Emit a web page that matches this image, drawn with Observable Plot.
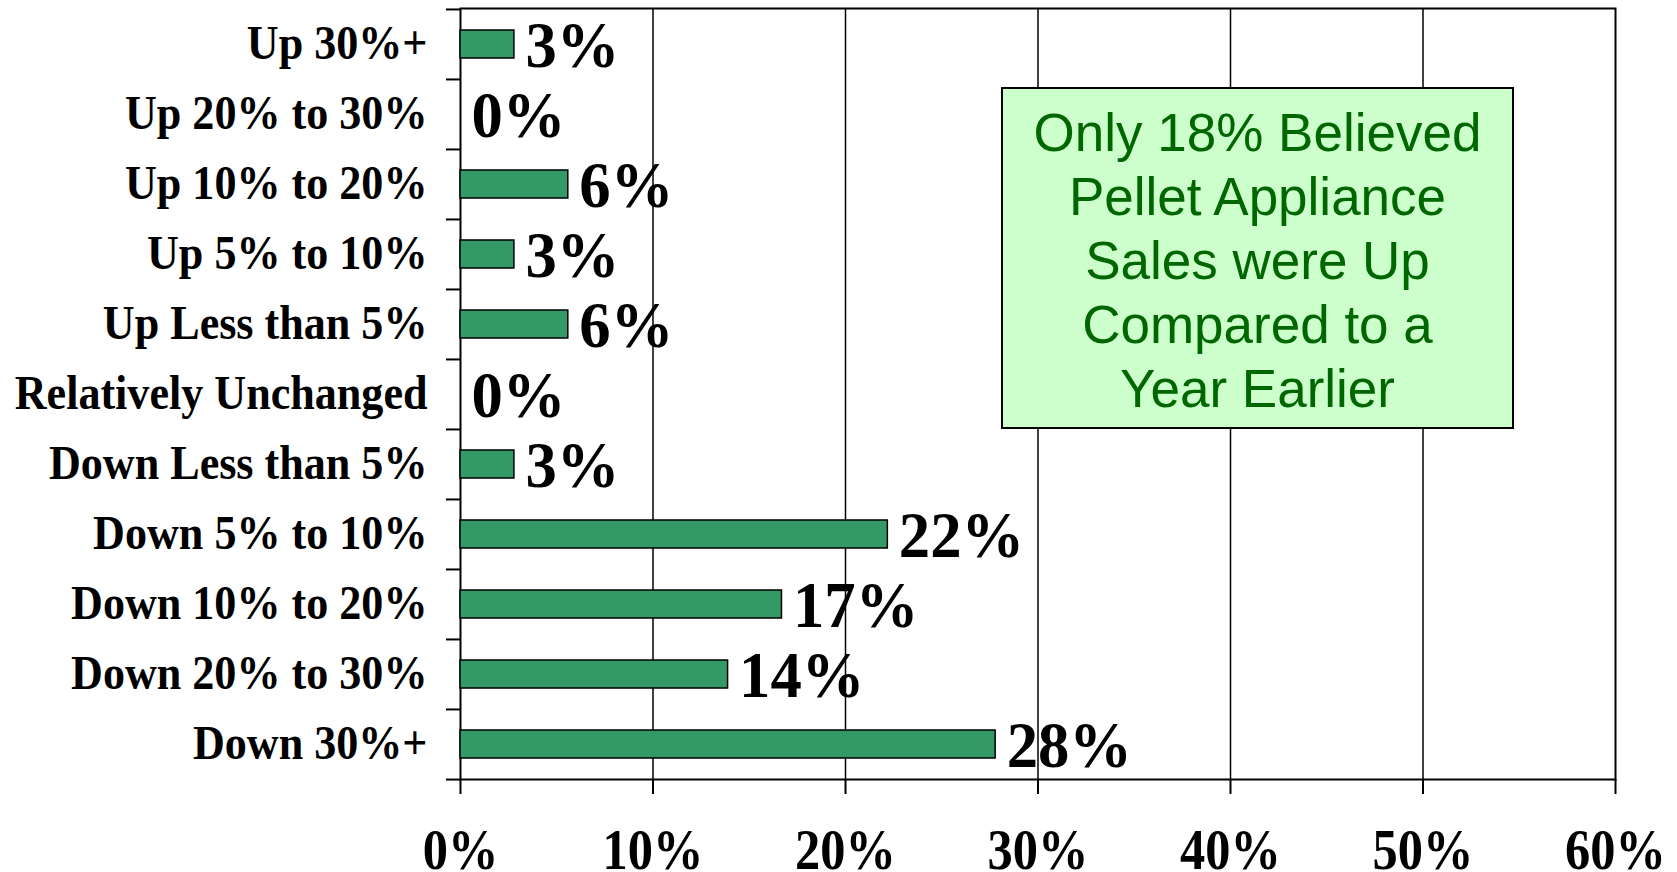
<!DOCTYPE html>
<html>
<head>
<meta charset="utf-8">
<script src="https://cdn.jsdelivr.net/npm/d3@7"></script>
<script src="https://cdn.jsdelivr.net/npm/@observablehq/plot@0.6"></script>
<style>
  html, body { margin: 0; padding: 0; background: #fff; }
  #wrap { position: relative; width: 1677px; height: 872px; overflow: hidden; background: #fff; }
  #wrap svg { display: block; }
  #note {
    position: absolute; left: 1001px; top: 87px; width: 513px; height: 342px;
    box-sizing: border-box; border: 2px solid #000; background: #ccffcc;
    color: #006600; font-family: "Liberation Sans", Arial, sans-serif;
    font-size: 53px; line-height: 64px; text-align: center; padding-top: 12px;
    white-space: nowrap;
  }
</style>
</head>
<body>
<div id="wrap"></div>
<script>
const categories = [
  "Up 30%+", "Up 20% to 30%", "Up 10% to 20%", "Up 5% to 10%", "Up Less than 5%",
  "Relatively Unchanged", "Down Less than 5%", "Down 5% to 10%", "Down 10% to 20%",
  "Down 20% to 30%", "Down 30%+"
];
const values = [2.8, 0, 5.6, 2.8, 5.6, 0, 2.8, 22.2, 16.7, 13.9, 27.8];
const valueLabels = ["3%", "0%", "6%", "3%", "6%", "0%", "3%", "22%", "17%", "14%", "28%"];
const xTicks = [0, 10, 20, 30, 40, 50, 60];
const xTickLabels = ["0%", "10%", "20%", "30%", "40%", "50%", "60%"];
const noteLines = ["Only 18% Believed", "Pellet Appliance", "Sales were Up", "Compared to a", "Year Earlier"];

const data = categories.map((c, i) => ({category: c, value: values[i], label: valueLabels[i]}));

const W = 1677, H = 872, mL = 460, mR = 62, mT = 8, mB = 93;
const step = (H - mT - mB) / categories.length;
const serif = '"Liberation Serif", "Times New Roman", serif';
const last = categories[categories.length - 1];

const chart = Plot.plot({
  width: W, height: H,
  marginLeft: mL, marginRight: mR, marginTop: mT, marginBottom: mB,
  style: {fontFamily: serif, fontWeight: "bold", background: "#fff", color: "#000"},
  x: {domain: [xTicks[0], xTicks[xTicks.length - 1]]},
  y: {domain: categories, paddingInner: 0.6, paddingOuter: 0.3},
  marks: [
    Plot.ruleX(xTicks.slice(1, -1), {stroke: "#000", strokeWidth: 1.5}),
    Plot.frame({stroke: "#000", strokeWidth: 2}),
    Plot.ruleY(categories, {y: d => d, x1: 0, x2: 0, insetLeft: -14, dy: -step / 2, stroke: "#000", strokeWidth: 2}),
    Plot.ruleY([last], {y: d => d, x1: 0, x2: 0, insetLeft: -14, dy: step / 2, stroke: "#000", strokeWidth: 2}),
    Plot.barX(data, {y: "category", x: "value", filter: d => d.value > 0, fill: "#339966", stroke: "#000", strokeWidth: 1.5}),
    Plot.text(data, {y: "category", x: "value", text: "label", textAnchor: "start", dx: 11, dy: 1, fontSize: 66, fontWeight: "bold", fill: "#000"}),
    Plot.axisY({tickSize: 0, tickPadding: 33, dy: -1, fontSize: 49, fontWeight: "bold", label: null}),
    Plot.axisX({ticks: xTicks, tickSize: 15, tickPadding: 35, strokeWidth: 2, fontSize: 56, fontWeight: "bold",
      tickFormat: d => xTickLabels[xTicks.indexOf(d)], label: null})
  ]
});

// Narrow serif glyphs slightly, around each label's own anchor
chart.querySelectorAll("text").forEach(t => {
  const g = t.closest("g[aria-label]");
  const s = g && g.getAttribute("aria-label") === "text" ? 0.95 : 0.9;
  const tr = t.getAttribute("transform") || "";
  const x = +t.getAttribute("x") || 0;
  const y = +t.getAttribute("y") || 0;
  t.setAttribute("transform", `${tr} translate(${x},${y}) scale(${s},1) translate(${-x},${-y})`);
});

const wrap = document.getElementById("wrap");
wrap.appendChild(chart);
const note = document.createElement("div");
note.id = "note";
note.innerHTML = noteLines.map(s => s.replace(/&/g, "&amp;")).join("<br>");
wrap.appendChild(note);
</script>
</body>
</html>
